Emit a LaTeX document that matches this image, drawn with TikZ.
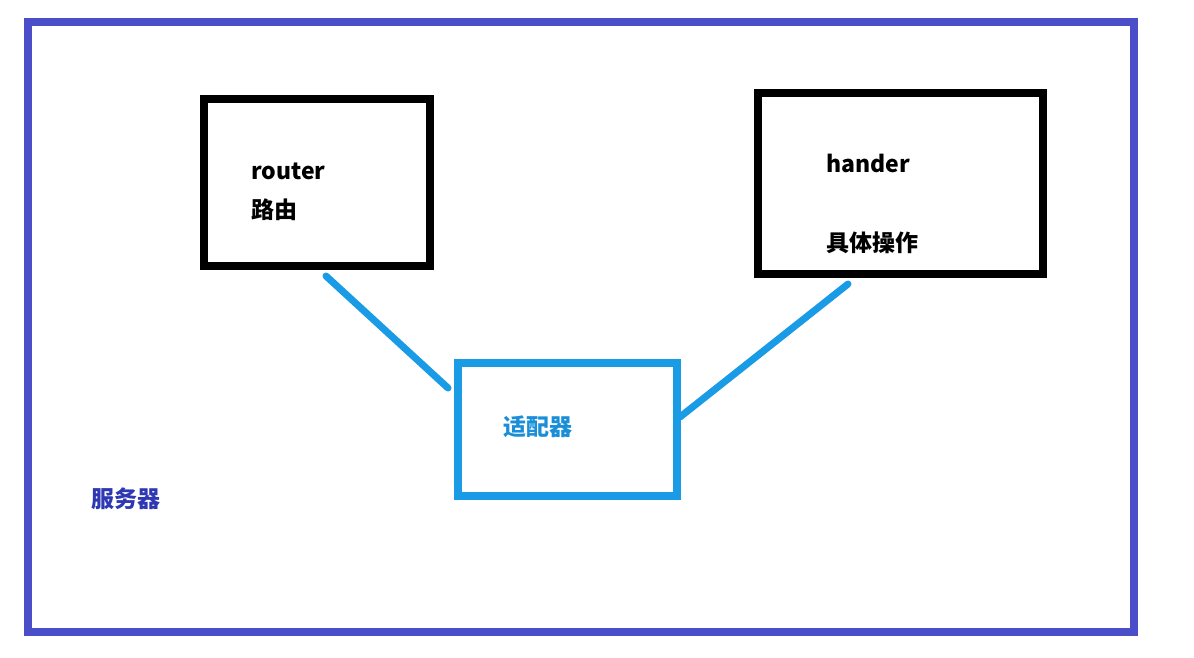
\documentclass[tikz,border=0pt]{standalone}
\usepackage{fontspec}
\setmainfont{Noto Sans CJK SC}
\definecolor{framec}{HTML}{4A4FC9}
\definecolor{serverc}{HTML}{2E38B2}
\definecolor{adaptc}{HTML}{1A9BE6}
\definecolor{adapttext}{HTML}{1A8FD8}
\tikzset{
  box/.style={draw, rectangle, inner sep=0pt, line width=8pt},
  lbl/.style={anchor=base west, inner sep=0pt, font=\fontsize{23}{26}\selectfont\bfseries},
  link/.style={draw=adaptc, line width=7pt, line cap=round}
}
\begin{document}
\begin{tikzpicture}[x=1pt,y=-1pt]
\useasboundingbox[fill=white] (0,0) rectangle (1194,657);
% outer frame (server)
\node[box, draw=framec, minimum width=1106.5pt, minimum height=609.5pt] (frame) at (580.75,326.75) {};
% router
\node[box, draw=black, minimum width=226pt, minimum height=166.5pt] (router) at (317,182.25) {};
% hander
\node[box, draw=black, minimum width=285pt, minimum height=181pt] (hander) at (900,183.5) {};
% adapter
\node[box, draw=adaptc, minimum width=219.5pt, minimum height=132.5pt] (adapter) at (567.25,429.25) {};
% texts
\node[lbl] (routertxt) at (251,179) {router};
\node[lbl] (routercn) at (251,218) {路由};
\node[lbl] (handertxt) at (826,172) {hander};
\node[lbl] (handercn) at (826,251) {具体操作};
\node[lbl, text=adapttext] (adaptertxt) at (503,435) {适配器};
\node[lbl, text=serverc] (servertxt) at (91,507) {服务器};
% connectors
\coordinate (r1) at (326,276);
\coordinate (a1) at (448,388);
\coordinate (h1) at (848,284);
\coordinate (a2) at (680,417);
\draw[link] (r1) -- (a1);
\draw[link] (h1) -- (a2);
\end{tikzpicture}
\end{document}
